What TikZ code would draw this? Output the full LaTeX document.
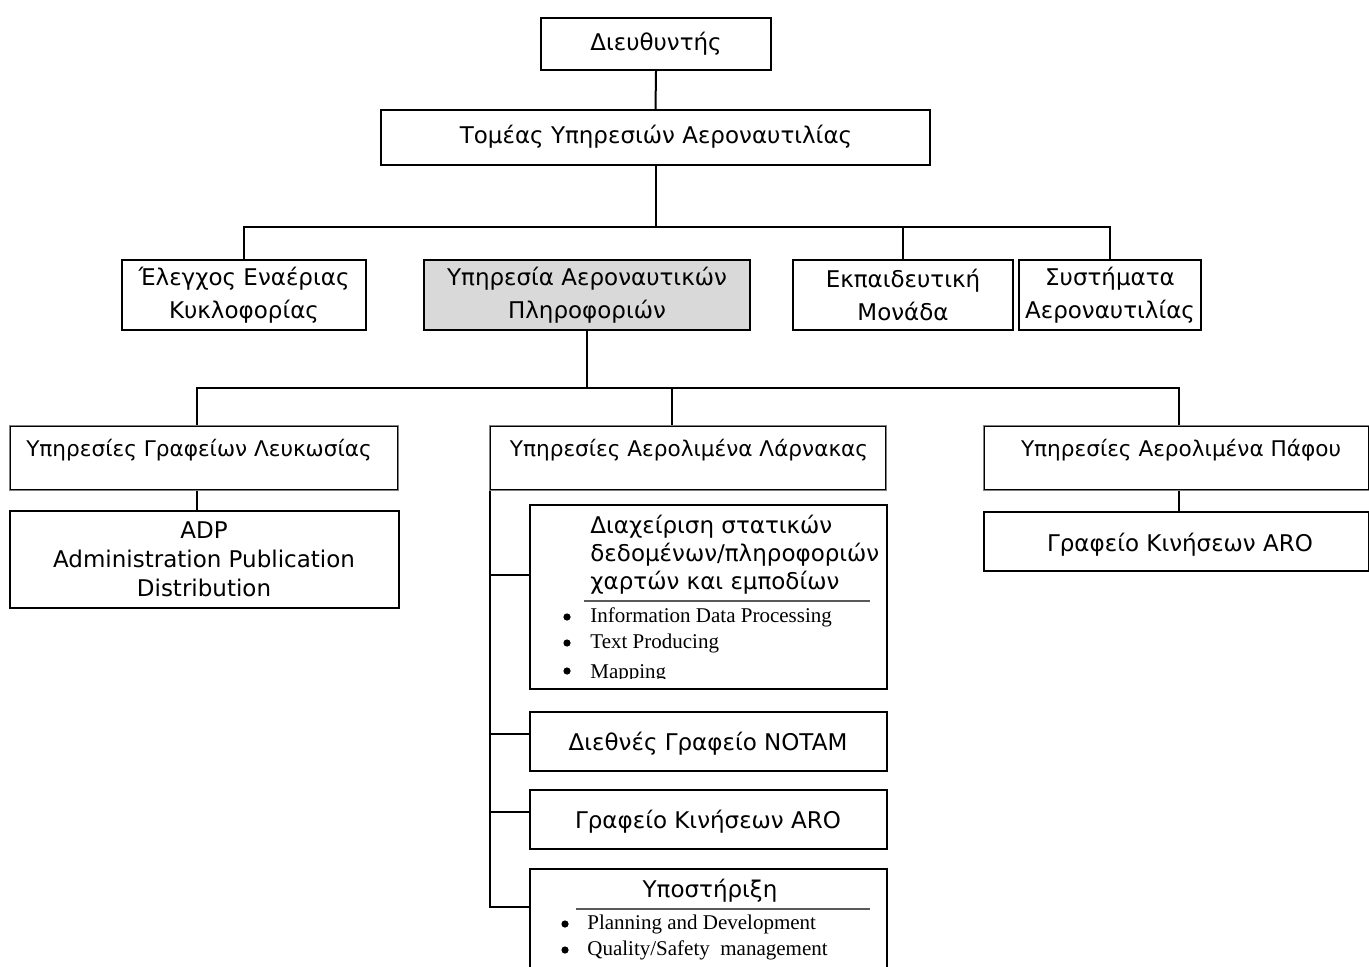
\documentclass[tikz,border=0pt]{standalone}
\usepackage{fontspec}
\setmainfont{DejaVu Sans}
\newfontfamily\tmsfont{Liberation Serif}
\usetikzlibrary{fit,calc}
\newcommand\grtxt{\fontsize{11.5}{14.5}\selectfont}
\newcommand\bultxt{\tmsfont\fontsize{10.5}{12}\selectfont}
\begin{document}
\begin{tikzpicture}[x=0.5pt,y=-0.5pt,
  box/.style={draw, line width=1pt, inner sep=0pt, fit={#1}},
  tribox/.style={draw=gray, line width=1.3pt, inner sep=0pt, fit={#1}},
  inner/.style={draw, line width=0.5pt},
  lbl/.style={font=\grtxt, align=center, inner sep=0pt},
  lbl2/.style={font=\fontsize{11.5}{16.5}\selectfont, align=center, inner sep=0pt},
  lbl3/.style={font=\fontsize{10.8}{14}\selectfont, align=center, inner sep=0pt},
  conn/.style={draw, line width=1pt},
  rule/.style={draw, line width=0.7pt, gray!70!black},
  dot/.style={circle, fill, inner sep=0pt, minimum size=3.6pt},
  bul/.style={font=\bultxt, inner sep=0pt, anchor=west},
]
\useasboundingbox (0,0) rectangle (1369,967);
\clip (0,0) rectangle (1369,967);

% level 0/1
\node[box={(541,18)(771,70)}] (dir) {};
\node[lbl] (dirt) at (656,44) {Διευθυντής};
\node[box={(381,110)(930,165)}] (tom) {};
\node[lbl] (tomt) at (656,137) {Τομέας Υπηρεσιών Αεροναυτιλίας};

% level 2
\node[box={(122,260)(366,330)}] (ele) {};
\node[lbl2] (elet) at (244,295) {Έλεγχος Εναέριας\\Κυκλοφορίας};
\node[box={(424,260)(750,330)}, fill={rgb,255:red,217;green,217;blue,217}] (ypa) {};
\node[lbl2] (ypat) at (587,295) {Υπηρεσία Αεροναυτικών\\Πληροφοριών};
\node[box={(793,260)(1013,330)}] (ekp) {};
\node[lbl2] (ekpt) at (903,295) {Εκπαιδευτική\\Μονάδα};
\node[box={(1019,260)(1201,330)}] (sys) {};
\node[lbl2] (syst) at (1110,295) {Συστήματα\\Αεροναυτιλίας};

\coordinate (bar1) at (0,227);
\coordinate (bar2) at (0,388);

\draw[conn] (dir.south) -- (tom.north);
\draw[conn] (tom.south) -- (tom.south |- bar1);
\draw[conn] (ele.north) |- (sys.north |- bar1) -- (sys.north);
\draw[conn] (ekp.north) -- (ekp.north |- bar1);

% level 3
\node[tribox={(10,426)(398,490)}] (lef) {};
\draw[inner] ($(lef.north west)+(2,2)$) rectangle ($(lef.south east)+(-2,-2)$);
\node[lbl3] (left) at (199,450) {Υπηρεσίες Γραφείων Λευκωσίας};

\node[tribox={(490,426)(886,490)}] (lar) {};
\draw[inner] ($(lar.north west)+(2,2)$) rectangle ($(lar.south east)+(-2,-2)$);
\node[lbl3] (lart) at (689,450) {Υπηρεσίες Αερολιμένα Λάρνακας};

\node[tribox={(984,426)(1369,490)}] (paf) {};
\draw[inner] ($(paf.north west)+(2,2)$) rectangle ($(paf.south east)+(-2,-2)$);
\node[lbl3] (paft) at (1181,450) {Υπηρεσίες Αερολιμένα Πάφου};

\draw[conn] (ypa.south) -- (ypa.south |- bar2);
\draw[conn] ([xshift=-3.5pt]lef.north) |- ([xshift=1pt]paf.north |- bar2) -- ([xshift=1pt]paf.north);
\draw[conn] ([xshift=-8pt]lar.north) -- ([xshift=-8pt]lar.north |- bar2);

% level 4 left / right
\node[box={(10,511)(399,608)}] (adp) {};
\node[lbl] (adpt) at (204,559) {ADP\\Administration Publication\\Distribution};
\draw[conn] ([xshift=-3.5pt]lef.south) -- ([xshift=-3.5pt]lef.south |- adp.north);

\node[box={(984,512)(1369,571)}] (aro1) {};
\node[lbl] (aro1t) at (1180,545) {Γραφείο Κινήσεων ARO};
\draw[conn] ([xshift=1pt]paf.south) -- ([xshift=1pt]aro1.north);

% level 4 Larnaca
\node[box={(530,505)(887,689)}] (dia) {};
\node[lbl, anchor=west, align=left, font=\fontsize{11.5}{14}\selectfont] (diat) at (590,555) {Διαχείριση στατικών\\δεδομένων/πληροφοριών\\χαρτών και εμποδίων};
\draw[rule] (584,601) -- (870,601);
\begin{scope}
\clip (530,505) rectangle (887,678);
\node[dot] (db1) at (567,617) {};
\node[bul] (dt1) at (590,617) {Information Data Processing};
\node[dot] (db2) at (567,643) {};
\node[bul] (dt2) at (590,643) {Text Producing};
\node[dot] (db3) at (567,671) {};
\node[bul] (dt3) at (590,674) {Mapping};
\end{scope}

\node[box={(530,712)(887,771)}] (notam) {};
\node[lbl] (notamt) at (708,744) {Διεθνές Γραφείο NOTAM};
\node[box={(530,790)(887,849)}] (aro2) {};
\node[lbl] (aro2t) at (708,822) {Γραφείο Κινήσεων ARO};
\node[box={(530,869)(887,1000)}] (yps) {};
\node[lbl] (ypst) at (710,891) {Υποστήριξη};
\draw[rule] (576,909) -- (870,909);
\node[dot] (yb1) at (565,924) {};
\node[bul] (yt1) at (587,924) {Planning and Development};
\node[dot] (yb2) at (565,950) {};
\node[bul] (yt2) at (587,950) {Quality/Safety~ management};

\draw[conn] ($(lar.south west)+(1,0)$) |- ($(dia.north west)+(0,71)$);
\draw[conn] ($(lar.south west)+(1,0)$) |- ($(notam.north west)+(0,23)$);
\draw[conn] ($(lar.south west)+(1,0)$) |- ($(aro2.north west)+(0,23)$);
\draw[conn] ($(lar.south west)+(1,0)$) |- ($(yps.north west)+(0,39)$);
\end{tikzpicture}
\end{document}
